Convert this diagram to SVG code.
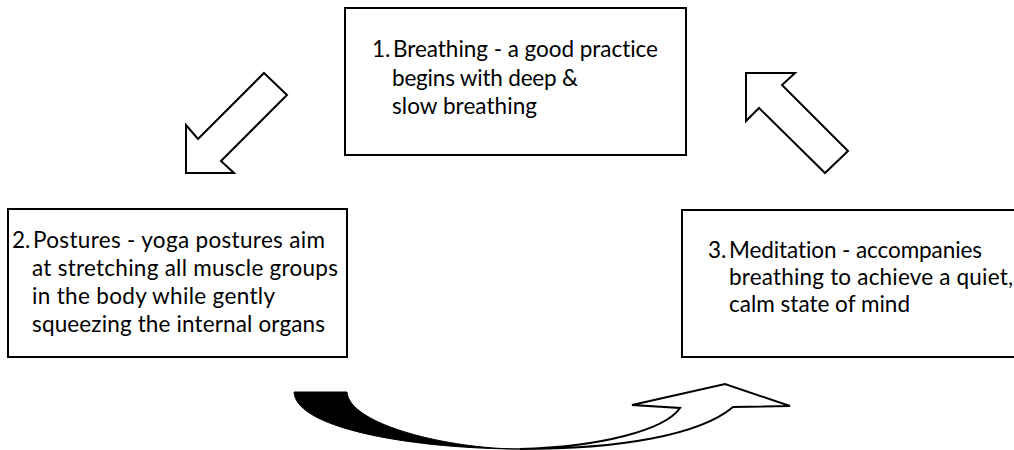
<svg xmlns="http://www.w3.org/2000/svg" width="1014" height="450" viewBox="0 0 1014 450">
<style>
.box{fill:#fff;stroke:#000;stroke-width:2}
.t{font-family:Lato,"Open Sans","Liberation Sans",sans-serif;font-size:22.5px;fill:#000;font-variant-ligatures:none}
.arr{fill:#fff;stroke:#000;stroke-width:2;stroke-linejoin:miter}
</style>
<rect width="1014" height="450" fill="#fff"/>
<g id="node1">
<rect class="box" x="345" y="8" width="341" height="147"/>
<text class="t" x="372" y="57">1.</text>
<text class="t" x="393" y="57" textLength="265" lengthAdjust="spacing">Breathing - a good practice</text>
<text class="t" x="392" y="86" textLength="186" lengthAdjust="spacing">begins with deep &amp;</text>
<text class="t" x="392" y="114" textLength="145" lengthAdjust="spacing">slow breathing</text>
</g>
<g id="node2">
<rect class="box" x="8" y="209" width="339" height="148"/>
<text class="t" x="12" y="248">2.</text>
<text class="t" x="33" y="248" textLength="292" lengthAdjust="spacing">Postures - yoga postures aim</text>
<text class="t" x="32" y="276" textLength="306" lengthAdjust="spacing">at stretching all muscle groups</text>
<text class="t" x="32" y="304" textLength="243" lengthAdjust="spacing">in the body while gently</text>
<text class="t" x="32" y="332" textLength="293" lengthAdjust="spacing">squeezing the internal organs</text>
</g>
<g id="node3">
<rect class="box" x="682" y="210" width="340" height="147"/>
<text class="t" x="708" y="258">3.</text>
<text class="t" x="729" y="258" textLength="253" lengthAdjust="spacing">Meditation - accompanies</text>
<text class="t" x="729" y="285" textLength="284" lengthAdjust="spacing">breathing to achieve a quiet,</text>
<text class="t" x="729" y="312" textLength="181" lengthAdjust="spacing">calm state of mind</text>
</g>
<g id="connectors">
<polygon class="arr" points="264,73 287,95 221,161 234,173 186,173 186,125 198,139"/>
<polygon class="arr" points="746,73 795,73 782,85 848,151 825,173 759,108 746,121"/>
<path d="M294,392 L347,392 C349,425 450,449 520,449 C420,449 296,430 294,392 Z" fill="#000" stroke="#000" stroke-width="1"/>
<path class="arr" d="M520,449 C620,449 700,435 733,407 L790,406 L725,384 L632,405 L680,408 C665,430 600,447 520,449 Z"/>
</g>
</svg>
